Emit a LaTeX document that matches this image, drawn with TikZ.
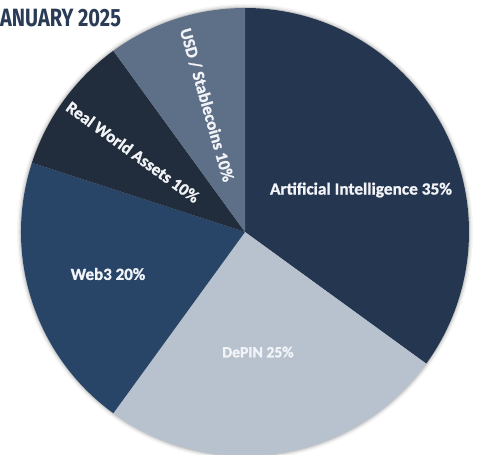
\documentclass[tikz,border=0pt]{standalone}
\usepackage{fontspec}
\setmainfont{Carlito}[BoldFeatures={FakeBold=1.2}]
\newfontfamily\titlefont{Fira Sans}

\definecolor{aiblue}{HTML}{253650}
\definecolor{depingray}{HTML}{B8C2CF}
\definecolor{webblue}{HTML}{284568}
\definecolor{rwanavy}{HTML}{212D3C}
\definecolor{usdslate}{HTML}{5E6F88}
\definecolor{titlenavy}{HTML}{2A3B55}
\definecolor{labelwhite}{HTML}{F2F4F7}

\begin{document}
\begin{tikzpicture}[x=1pt,y=1pt,
  slicelabel/.style={text=labelwhite, font=\bfseries\fontsize{17}{17}\selectfont, inner sep=0pt}]

\useasboundingbox (0,0) rectangle (477,455);

% Centre of the pie
\coordinate (c) at (245,223);

% Soft shadow round the rim
\foreach \r/\o in {228/0.04,226.5/0.07,225/0.12}
	\fill [black,opacity=\o] (c) circle[radius=\r];

% Slices, clockwise from the top: start angle / end angle / colour
\foreach \s/\e/\col in {90/-36/aiblue,-36/-126/depingray,-126/-198/webblue,162/126/rwanavy,126/90/usdslate}
	\fill [\col] (c) -- ++(\s:224) arc[start angle=\s, end angle=\e, radius=224] -- cycle;

% Title, cut at the left edge
\node [anchor=north west, inner sep=0pt, text=titlenavy, font=\titlefont\bfseries\fontsize{25}{25}\selectfont, xscale=0.8] (title) at (0,446) {ANUARY 2025};

% Slice labels
\node [slicelabel, xscale=1.02] (ai) at (361,265) {Artificial Intelligence 35\%};
\node [slicelabel, scale=0.92] (depin) at (258,103) {DePIN 25\%};
\node [slicelabel] (web) at (108,181) {Web3 20\%};
\node [slicelabel, rotate=-36] (rwa) at (133,303) {Real World Assets 10\%};
\node [slicelabel, rotate=-74] (usd) at (207,350) {USD / Stablecoins 10\%};
\end{tikzpicture}
\end{document}
